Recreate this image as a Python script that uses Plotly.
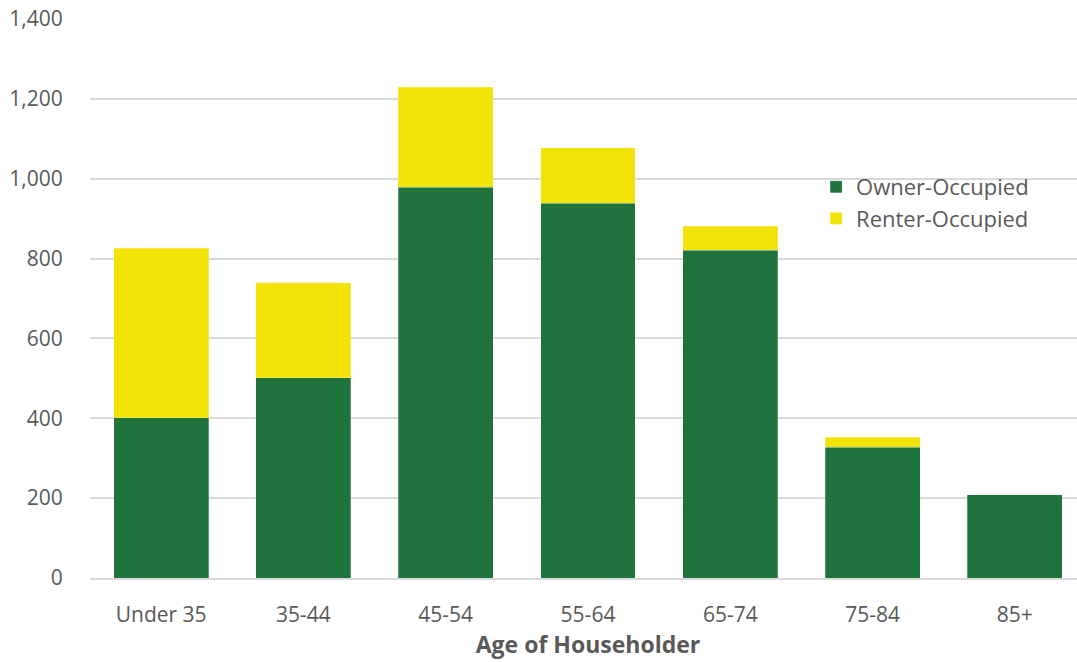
import plotly.graph_objects as go

categories = ["Under 35", "35-44", "45-54", "55-64", "65-74", "75-84", "85+"]
owner = [401, 501, 979, 939, 821, 328, 208]
renter = [425, 238, 250, 138, 60, 25, 0]
tick_vals = [0, 200, 400, 600, 800, 1000, 1200, 1400]

fig = go.Figure()
fig.add_trace(go.Bar(x=categories, y=owner, name="Owner-Occupied",
                     marker=dict(color="#1F733D", line=dict(color="rgba(255,255,255,0.5)", width=0.5))))
fig.add_trace(go.Bar(x=categories, y=renter, name="Renter-Occupied",
                     marker=dict(color="#F2E206", line=dict(color="rgba(255,255,255,0.5)", width=0.5))))

fig.update_layout(
    barmode="stack",
    bargap=0.333,
    width=1086, height=662,
    margin=dict(l=90, r=0, t=19, b=84),
    plot_bgcolor="white", paper_bgcolor="white",
    font=dict(family="Open Sans, Noto Sans, sans-serif", size=21, color="#595959"),
    legend=dict(x=0.729, y=0.737, xanchor="left", yanchor="top",
                font=dict(size=22, color="#595959"), traceorder="normal",
                bgcolor="rgba(0,0,0,0)"),
    xaxis=dict(title=dict(text="<b>Age of Householder</b>", font=dict(size=23, color="#595959"), standoff=6),
               showline=True, linecolor="#D9D9D9", linewidth=1.5, ticks="outside", ticklen=17,
               tickcolor="rgba(0,0,0,0)", tickfont=dict(size=21), automargin=False),
    yaxis=dict(range=[0, 1400], tickvals=tick_vals, tickformat=",", showgrid=True,
               gridcolor="#D9D9D9", gridwidth=1.5, zeroline=False, ticks="outside", ticklen=22,
               tickcolor="rgba(0,0,0,0)", tickfont=dict(size=21), automargin=False),
)
fig.write_html(
    "out.html",
    config={"displayModeBar": False},
    post_script="document.body.style.margin='0';document.documentElement.style.overflow='hidden';document.body.style.overflow='hidden';",
)
